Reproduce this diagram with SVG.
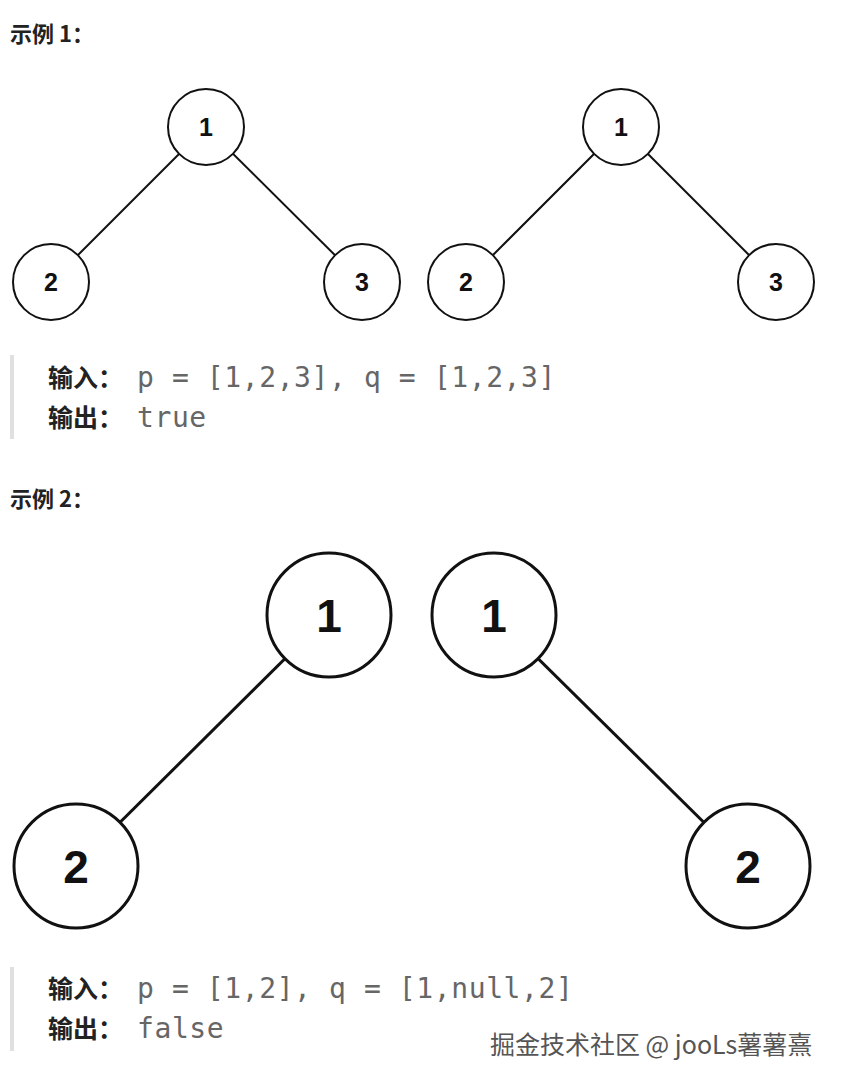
<svg xmlns="http://www.w3.org/2000/svg" width="841" height="1087" viewBox="0 0 841 1087">
<style>
.h{font-family:"Noto Sans CJK SC","Liberation Sans",sans-serif;font-weight:bold;font-size:22px;fill:#222}
.n circle{fill:#fff;stroke:#111}
.s circle{stroke-width:2}
.b circle{stroke-width:3}
.s text{font-family:"Liberation Sans",Arial,sans-serif;font-weight:bold;font-size:25px;text-anchor:middle;fill:#111}
.b text{font-family:"Liberation Sans",Arial,sans-serif;font-weight:bold;font-size:46px;text-anchor:middle;fill:#111}
.lab{font-family:"Noto Sans CJK SC","Liberation Sans",sans-serif;font-weight:bold;font-size:25px;fill:#222}
.code{font-family:"DejaVu Sans Mono","Liberation Mono",monospace;font-size:28px;letter-spacing:0.6px;fill:#666}
.bar{fill:#e0e0e0}
</style>
<rect width="841" height="1087" fill="#fff"/>
<text class="h" x="10" y="42">示例 1：</text>
<g id="connectors" stroke="#111">
<line x1="206" y1="127" x2="51" y2="282" stroke-width="2"/>
<line x1="206" y1="127" x2="362" y2="282" stroke-width="2"/>
<line x1="621" y1="127" x2="466" y2="282" stroke-width="2"/>
<line x1="621" y1="127" x2="776" y2="282" stroke-width="2"/>
<line x1="329" y1="615" x2="76" y2="866" stroke-width="3"/>
<line x1="494" y1="615" x2="748" y2="866" stroke-width="3"/>
</g>
<g id="p1" class="n s"><circle cx="206" cy="127" r="38"/><text x="206" y="136">1</text></g>
<g id="p2" class="n s"><circle cx="51" cy="282" r="38"/><text x="51" y="291">2</text></g>
<g id="p3" class="n s"><circle cx="362" cy="282" r="38"/><text x="362" y="291">3</text></g>
<g id="q1" class="n s"><circle cx="621" cy="127" r="38"/><text x="621" y="136">1</text></g>
<g id="q2" class="n s"><circle cx="466" cy="282" r="38"/><text x="466" y="291">2</text></g>
<g id="q3" class="n s"><circle cx="776" cy="282" r="38"/><text x="776" y="291">3</text></g>
<rect class="bar" x="10" y="355" width="4" height="84"/>
<text class="lab" x="48" y="387">输入：</text><text class="code" x="137" y="387">p = [1,2,3], q = [1,2,3]</text>
<text class="lab" x="48" y="427">输出：</text><text class="code" x="137" y="427">true</text>
<text class="h" x="10" y="507">示例 2：</text>
<g id="r1" class="n b"><circle cx="329" cy="615" r="62"/><text x="329" y="632">1</text></g>
<g id="r2" class="n b"><circle cx="76" cy="866" r="62"/><text x="76" y="883">2</text></g>
<g id="t1" class="n b"><circle cx="494" cy="615" r="62"/><text x="494" y="632">1</text></g>
<g id="t2" class="n b"><circle cx="748" cy="866" r="62"/><text x="748" y="883">2</text></g>
<rect class="bar" x="10" y="967" width="4" height="84"/>
<text class="lab" x="48" y="998">输入：</text><text class="code" x="137" y="998">p = [1,2], q = [1,null,2]</text>
<text class="lab" x="48" y="1038">输出：</text><text class="code" x="137" y="1038">false</text>
<text x="490" y="1054" font-family="Noto Sans CJK SC,Liberation Sans,sans-serif" font-size="25" fill="#555">掘金技术社区 @ jooLs薯薯熹</text>
</svg>
